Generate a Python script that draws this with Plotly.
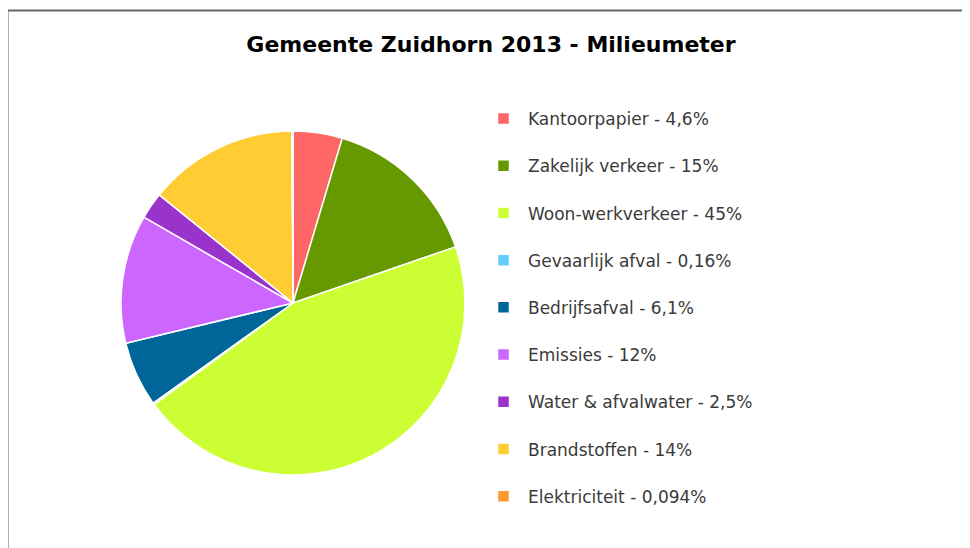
import plotly.graph_objects as go

# Milieumeter Zuidhorn 2013, share per category (%)
categories = [
    "Kantoorpapier",
    "Zakelijk verkeer",
    "Woon-werkverkeer",
    "Gevaarlijk afval",
    "Bedrijfsafval",
    "Emissies",
    "Water & afvalwater",
    "Brandstoffen",
    "Elektriciteit",
]
shares = [4.6, 15, 45, 0.16, 6.1, 12, 2.5, 14, 0.094]
colors = [
    "#ff6666", "#669900", "#ccff33", "#66ccff", "#006699",
    "#cc66ff", "#9933cc", "#ffcc33", "#ff9933",
]

# legend text like "Kantoorpapier - 4,6%", extra <br> for the wide row spacing
labels = [f"{c} - {v:g}%".replace(".", ",") + "<br>" for c, v in zip(categories, shares)]

# page body has an 8px margin, so work in window pixels minus 8
OFF = 8
W, H = 970 - OFF, 548 - OFF
cx, cy, r = 293 - OFF, 303 - OFF, 172


def px(x):
    return (x - OFF) / W


def py(y):
    return 1 - (y - OFF) / H


fig = go.Figure(
    go.Pie(
        labels=labels,
        values=shares,
        sort=False,
        direction="clockwise",
        rotation=0,
        textinfo="none",
        hoverinfo="label+percent",
        marker=dict(colors=colors, line=dict(color="white", width=1.5)),
        domain=dict(
            x=[(cx - r) / W, (cx + r) / W],
            y=[(H - cy - r) / H, (H - cy + r) / H],
        ),
    )
)

fig.update_layout(
    width=W,
    height=H,
    margin=dict(l=0, r=0, t=0, b=0),
    paper_bgcolor="white",
    title=dict(
        text="<b>Gemeente Zuidhorn 2013 - Milieumeter</b>",
        font=dict(family="DejaVu Sans", size=22, color="black"),
        x=px(491),
        xanchor="center",
        y=py(44),
        yanchor="middle",
    ),
    legend=dict(
        x=px(479),
        xanchor="left",
        y=py(101),
        yanchor="top",
        valign="top",
        itemwidth=39,
        font=dict(family="DejaVu Sans", size=17, color="#3a3a3a"),
        bgcolor="rgba(0,0,0,0)",
    ),
    shapes=[
        dict(type="line", xref="paper", yref="paper",
             x0=px(7.5), x1=1, y0=py(10.5), y1=py(10.5),
             line=dict(color="#666666", width=2)),
        dict(type="line", xref="paper", yref="paper",
             x0=px(7.5), x1=px(7.5), y0=0, y1=py(10.5),
             line=dict(color="#666666", width=2)),
    ],
)

fig.write_html("out.html")
